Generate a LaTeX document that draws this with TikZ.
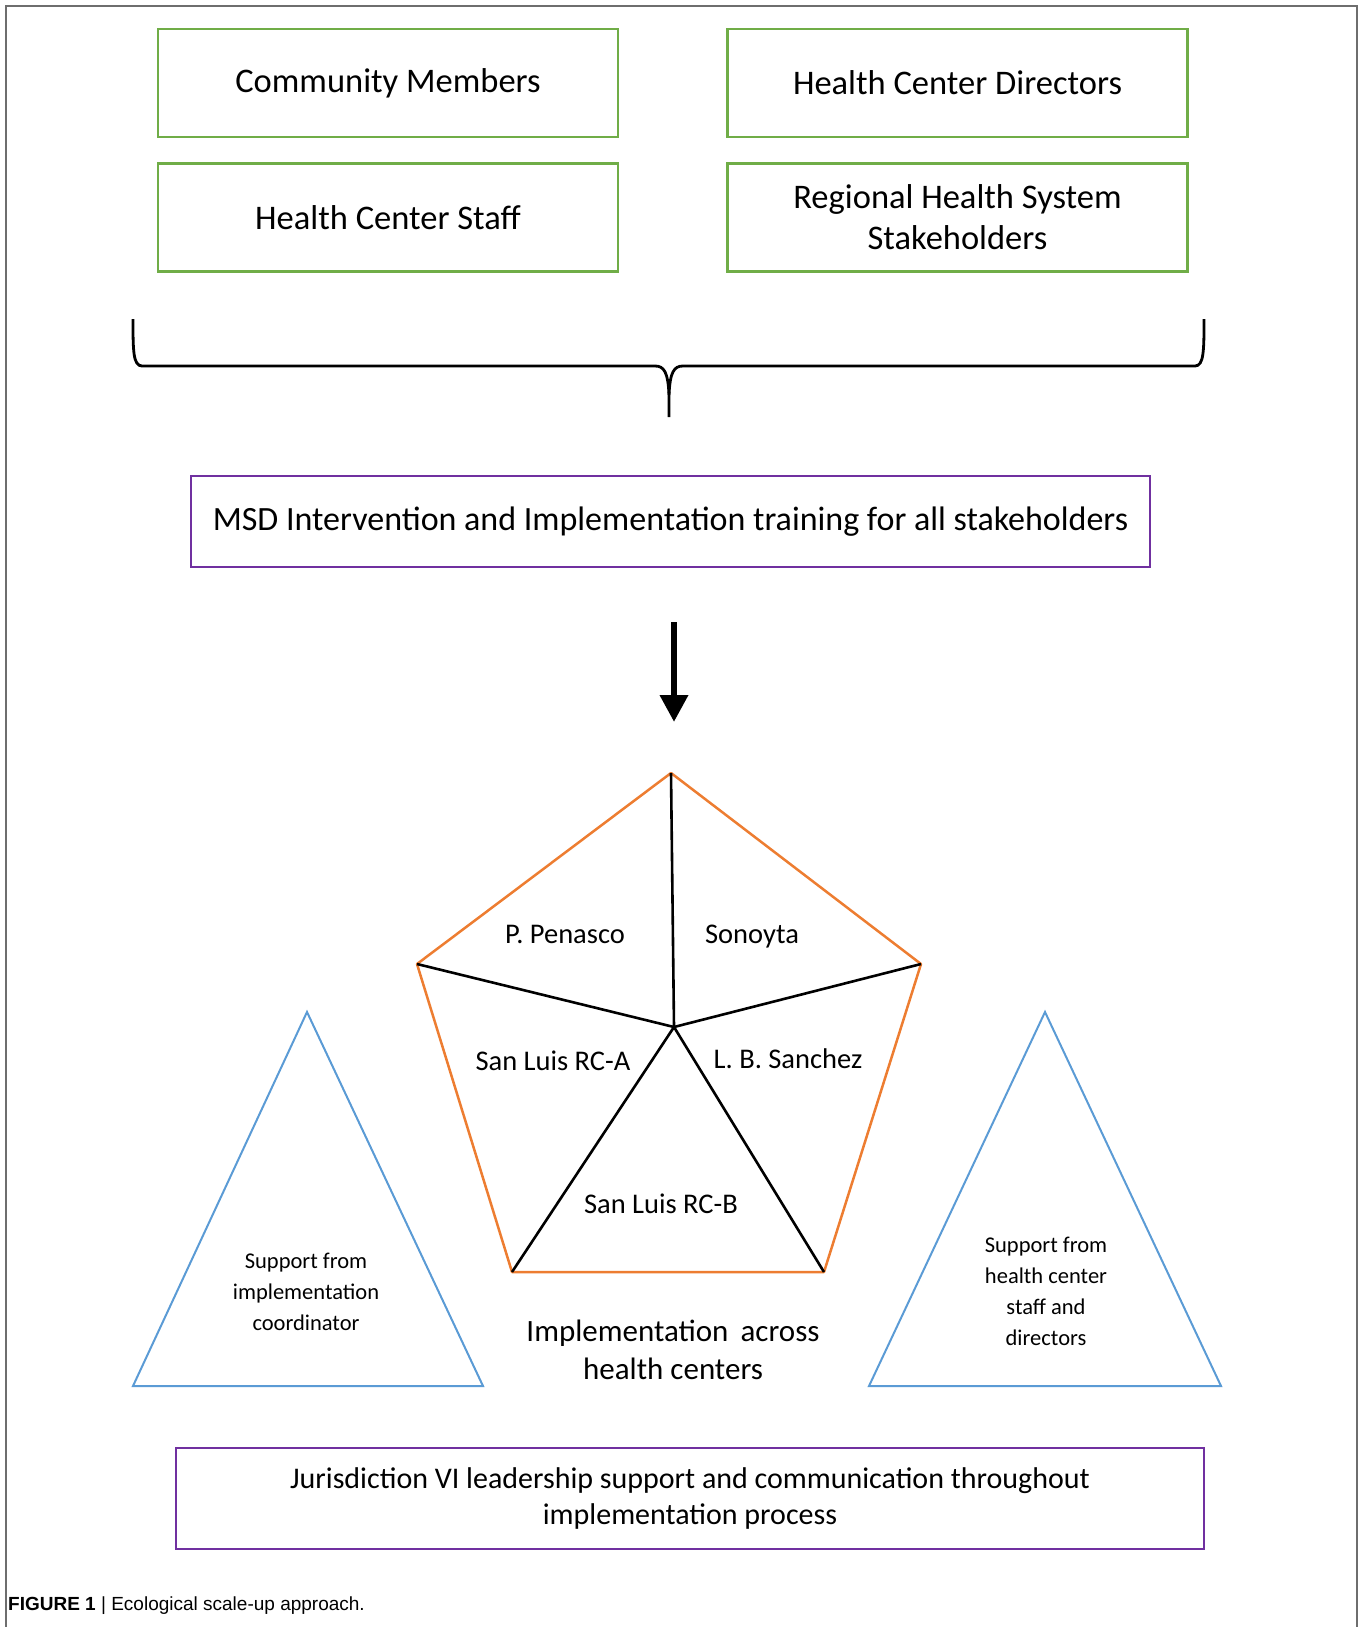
\documentclass[tikz,border=0pt]{standalone}
\usepackage{fontspec}
\setmainfont{Carlito}
\newfontfamily\capfont{Liberation Sans}
\usetikzlibrary{arrows.meta}
\definecolor{boxgreen}{RGB}{112,173,71}
\definecolor{boxpurple}{RGB}{112,48,160}
\definecolor{pentorange}{RGB}{237,125,49}
\definecolor{triblue}{RGB}{91,155,213}
\definecolor{framegray}{RGB}{110,110,110}
\begin{document}
\begin{tikzpicture}[x=1pt,y=-1pt,
  greenbox/.style={draw=boxgreen, line width=2.5pt, minimum width=460pt, minimum height=108pt, inner sep=0pt, align=center, font=\fontsize{34.5}{41}\selectfont},
  purplebox/.style={draw=boxpurple, line width=2.5pt, inner sep=0pt, align=center},
  pentedge/.style={draw=pentorange, line width=2.5pt, line join=round},
  spoke/.style={draw=black, line width=2.6pt},
  triedge/.style={draw=triblue, line width=2pt, line join=miter},
  pentlabel/.style={font=\fontsize{28.5}{32}\selectfont, inner sep=0pt},
  trilabel/.style={font=\fontsize{22.5}{31}\selectfont, align=center, inner sep=0pt},
  bracepath/.style={draw=black, line width=2.8pt},
  bigarrow/.style={draw=black, line width=6.5pt, -{Triangle[length=27pt,width=27pt]}}
]
\useasboundingbox (0,0) rectangle (1363,1627);
% frame
\draw[framegray, line width=1.5pt] (6,1627) -- (6,6) -- (1357,6) -- (1357,1627);

% stakeholder boxes
\node[greenbox] (cm)  at (388,83)    {Community Members};
\node[greenbox] (hcd) at (957.5,83)  {Health Center Directors};
\node[greenbox] (hcs) at (388,217.5) {Health Center Staff};
\node[greenbox] (rhs) at (957.5,217.5) {Regional Health System\\Stakeholders};

% brace
\coordinate (bl) at (133,319);
\coordinate (br) at (1204,319);
\coordinate (btip) at (669,417);
\draw[bracepath] (bl) .. controls (133,350) and (133,366) .. (142,366)
  -- (655,366) .. controls (664,366) and (668,372) .. (669,395) -- (btip);
\draw[bracepath] (br) .. controls (1204,350) and (1204,366) .. (1195,366)
  -- (683,366) .. controls (674,366) and (670,372) .. (669,395);

% MSD box
\node[purplebox, minimum width=959pt, minimum height=91pt, font=\fontsize{34}{40}\selectfont] (msd) at (670.5,521.5)
  {MSD Intervention and Implementation training for all stakeholders};

% arrow
\coordinate (atop) at (674,622);
\coordinate (abot) at (674,722);
\draw[bigarrow] (atop) -- (abot);

% pentagon
\coordinate (pT) at (671,773);
\coordinate (pL) at (417,964);
\coordinate (pR) at (921,964);
\coordinate (pBL) at (512,1272);
\coordinate (pBR) at (824,1272);
\coordinate (pC) at (674,1027);
\draw[pentedge] (pT) -- (pR) -- (pBR) -- (pBL) -- (pL) -- cycle;
\draw[spoke] (pC) -- (pT);
\draw[spoke] (pC) -- (pL);
\draw[spoke] (pC) -- (pR);
\draw[spoke] (pC) -- (pBL);
\draw[spoke] (pC) -- (pBR);
\node[pentlabel] (pen) at (565,934)  {P. Penasco};
\node[pentlabel] (son) at (752,937)  {Sonoyta};
\node[pentlabel] (sla) at (553,1061) {San Luis RC-A};
\node[pentlabel] (lbs) at (788,1059) {L. B. Sanchez};
\node[pentlabel] (slb) at (661,1204) {San Luis RC-B};
\node[font=\fontsize{31}{38}\selectfont, align=center, inner sep=0pt] (impl) at (673,1350)
  {Implementation\, across\\health centers};

% triangles
\coordinate (lA) at (307,1012);
\coordinate (lB1) at (133,1386);
\coordinate (lB2) at (483,1386);
\draw[triedge] (lA) -- (lB2) -- (lB1) -- cycle;
\node[trilabel] (lsup) at (306,1292) {Support from\\implementation\\coordinator};
\coordinate (rA) at (1045,1012);
\coordinate (rB1) at (869,1386);
\coordinate (rB2) at (1221,1386);
\draw[triedge] (rA) -- (rB2) -- (rB1) -- cycle;
\node[trilabel] (rsup) at (1046,1291) {Support from\\health center\\staff and\\directors};

% bottom box
\node[purplebox, minimum width=1028pt, minimum height=101pt, font=\fontsize{30}{36}\selectfont] (jur) at (690,1498.5)
  {Jurisdiction VI leadership support and communication throughout\\implementation process};

% caption
\node[anchor=west, inner sep=0pt, font=\capfont\fontsize{19}{23}\selectfont] (cap) at (8,1606)
  {\textbf{FIGURE 1} | Ecological scale-up approach.};
\end{tikzpicture}
\end{document}
